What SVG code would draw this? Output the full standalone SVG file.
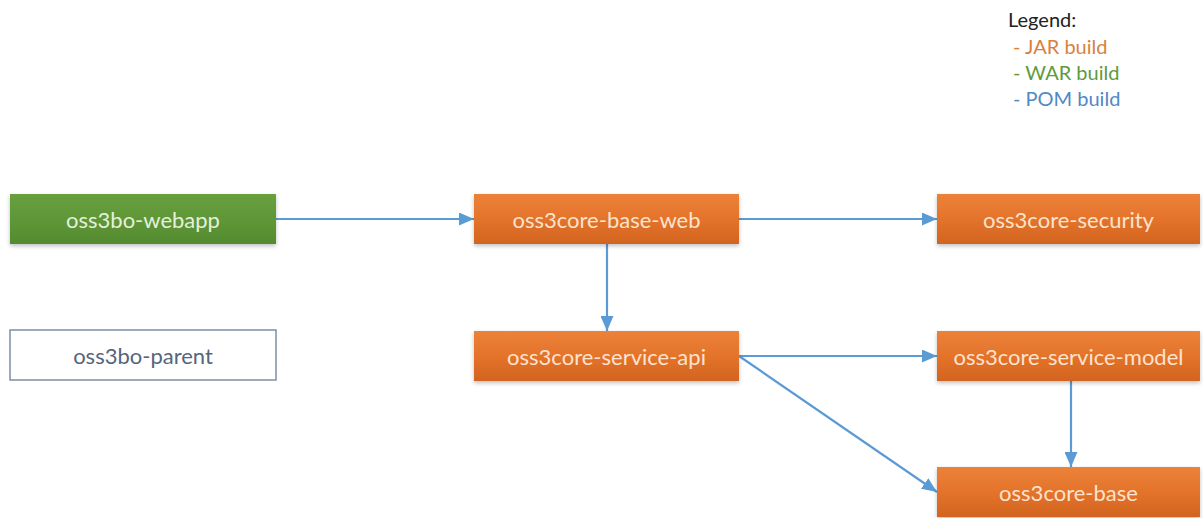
<svg xmlns="http://www.w3.org/2000/svg" width="1203" height="518" viewBox="0 0 1203 518">
  <defs>
    <linearGradient id="gradJar" x1="0" y1="0" x2="0" y2="1">
      <stop offset="0" stop-color="#ec8238"/>
      <stop offset="0.5" stop-color="#e4732b"/>
      <stop offset="1" stop-color="#d2641f"/>
    </linearGradient>
    <linearGradient id="gradWar" x1="0" y1="0" x2="0" y2="1">
      <stop offset="0" stop-color="#68a03e"/>
      <stop offset="0.5" stop-color="#5f9738"/>
      <stop offset="1" stop-color="#548a2f"/>
    </linearGradient>
    <filter id="shadow" x="-5%" y="-20%" width="110%" height="150%">
      <feDropShadow dx="0" dy="2" stdDeviation="2" flood-color="#000" flood-opacity="0.25"/>
    </filter>
    <marker id="arrow" viewBox="0 0 15 13" refX="15" refY="6.5" markerWidth="15" markerHeight="13" markerUnits="userSpaceOnUse" orient="auto">
      <path d="M0,0 L15,6.5 L0,13 Z" fill="#5b9bd5"/>
    </marker>
    <style>
      .jar rect { fill: url(#gradJar); filter: url(#shadow); }
      .war rect { fill: url(#gradWar); filter: url(#shadow); }
      .pom rect { fill: #ffffff; stroke: #7f8ea3; stroke-width: 1.5; }
      .node text { font-family: Lato, "Open Sans", sans-serif; font-size: 22px; text-anchor: middle; dominant-baseline: central; }
      .jar text { fill: #fbe3cf; }
      .war text { fill: #e4f0da; }
      .pom text { fill: #55657b; }
      .edge { stroke: #5b9bd5; stroke-width: 2.2; fill: none; marker-end: url(#arrow); }
      .legend { font-family: Lato, "Open Sans", sans-serif; font-size: 20px; }
    </style>
  </defs>

  <!-- Legend -->
  <g id="legend" class="legend">
    <text x="1008" y="27" fill="#222222">Legend:</text>
    <text x="1013" y="54" fill="#d8813f">- JAR build</text>
    <text x="1013" y="80" fill="#5e9a3d">- WAR build</text>
    <text x="1013" y="106" fill="#4f89c6">- POM build</text>
  </g>

  <!-- Dependency connectors -->
  <g id="connectors">
    <line class="edge" x1="276" y1="219" x2="474" y2="219"/>
    <line class="edge" x1="739" y1="219" x2="937" y2="219"/>
    <line class="edge" x1="607" y1="244" x2="607" y2="331"/>
    <line class="edge" x1="739" y1="356" x2="937" y2="356"/>
    <line class="edge" x1="739" y1="356" x2="937" y2="492"/>
    <line class="edge" x1="1071" y1="381" x2="1071" y2="467"/>
  </g>

  <!-- Modules -->
  <g id="oss3bo-webapp" class="node war">
    <rect x="10" y="194" width="266" height="50"/>
    <text x="143" y="219">oss3bo-webapp</text>
  </g>
  <g id="oss3bo-parent" class="node pom">
    <rect x="10" y="330" width="266" height="50"/>
    <text x="143" y="355">oss3bo-parent</text>
  </g>
  <g id="oss3core-base-web" class="node jar">
    <rect x="474" y="194" width="265" height="50"/>
    <text x="606.5" y="219">oss3core-base-web</text>
  </g>
  <g id="oss3core-security" class="node jar">
    <rect x="937" y="194" width="263" height="50"/>
    <text x="1068.5" y="219">oss3core-security</text>
  </g>
  <g id="oss3core-service-api" class="node jar">
    <rect x="474" y="331" width="265" height="50"/>
    <text x="606.5" y="356">oss3core-service-api</text>
  </g>
  <g id="oss3core-service-model" class="node jar">
    <rect x="937" y="331" width="263" height="50"/>
    <text x="1068.5" y="356">oss3core-service-model</text>
  </g>
  <g id="oss3core-base" class="node jar">
    <rect x="937" y="467" width="263" height="50"/>
    <text x="1068.5" y="492">oss3core-base</text>
  </g>
</svg>
